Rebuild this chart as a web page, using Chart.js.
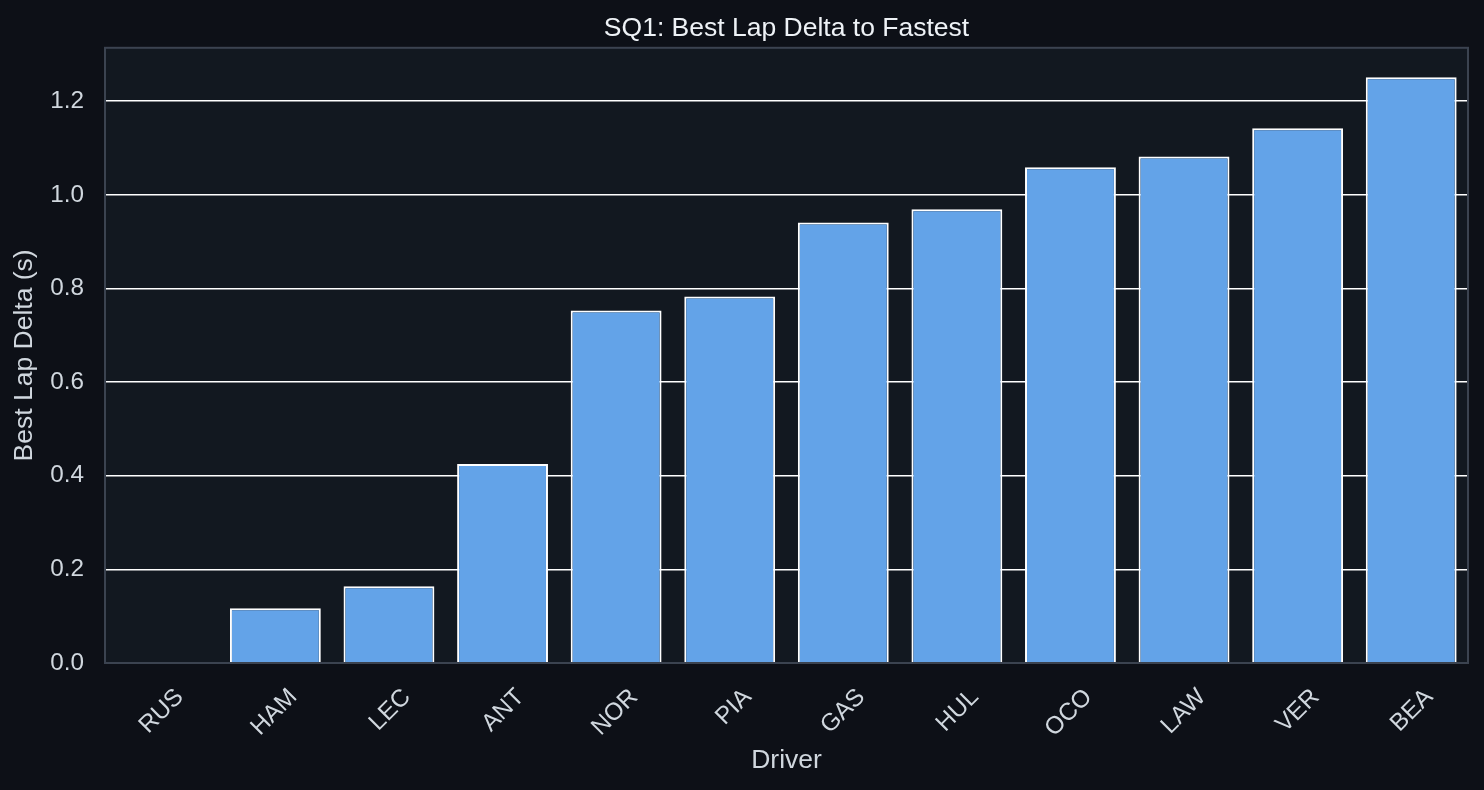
<!DOCTYPE html>
<html lang="en">
<head>
    <meta charset="UTF-8">
    <title>SQ1: Best Lap Delta to Fastest</title>
    <style>
        html, body {
            margin: 0;
            padding: 0;
            background-color: #0d1017;
        }
        #chart {
            display: block;
        }
    </style>
    <script src="https://cdn.jsdelivr.net/npm/chart.js"></script>
</head>
<body>
    <canvas id="chart" width="1484" height="790"></canvas>
    <script>
        const drivers = ['RUS', 'HAM', 'LEC', 'ANT', 'NOR', 'PIA', 'GAS', 'HUL', 'OCO', 'LAW', 'VER', 'BEA'];
        const lapDeltas = [0.0, 0.117, 0.164, 0.425, 0.753, 0.783, 0.941, 0.969, 1.059, 1.082, 1.142, 1.251];
        const yTicks = [0, 0.2, 0.4, 0.6, 0.8, 1.0, 1.2];
        const yMax = 1.314;

        const fontFamily = '"Liberation Sans", Arial, sans-serif';
        const textColor = '#d0d7de';

        // plot background, frame, and title centred over the plot area
        const plotFrame = {
            id: 'plotFrame',
            afterLayout(chart) {
                const t = chart.titleBlock;
                if (t) {
                    t.left = chart.chartArea.left;
                    t.right = chart.chartArea.right;
                    t.width = t.right - t.left;
                }
            },
            beforeDraw(chart) {
                const { ctx, chartArea: a } = chart;
                ctx.save();
                ctx.fillStyle = '#121820';
                ctx.fillRect(a.left, a.top, a.right - a.left, a.bottom - a.top);
                ctx.restore();
            },
            afterDraw(chart) {
                const { ctx, chartArea: a } = chart;
                ctx.save();
                ctx.strokeStyle = '#3b4350';
                ctx.lineWidth = 2;
                ctx.strokeRect(a.left, a.top, a.right - a.left, a.bottom - a.top);
                ctx.restore();
            }
        };

        new Chart(document.getElementById('chart'), {
            type: 'bar',
            data: {
                labels: drivers,
                datasets: [{
                    label: 'Best Lap Delta (s)',
                    data: lapDeltas,
                    backgroundColor: '#63a3e8',
                    borderColor: '#ffffff',
                    borderWidth: 2,
                    borderSkipped: 'bottom',
                    categoryPercentage: 1.0,
                    barPercentage: 0.8
                }]
            },
            options: {
                responsive: false,
                animation: false,
                devicePixelRatio: 1,
                layout: { padding: { left: 0, right: 16, top: 0, bottom: 0 } },
                plugins: {
                    legend: { display: false },
                    tooltip: { enabled: false },
                    title: {
                        display: true,
                        text: 'SQ1: Best Lap Delta to Fastest',
                        color: '#eef2f6',
                        font: { family: fontFamily, size: 26.5, weight: 'normal' },
                        padding: { top: 13, bottom: 3 }
                    }
                },
                scales: {
                    x: {
                        afterFit(scale) { scale.height = 127; },
                        grid: { display: false, drawTicks: false },
                        border: { display: false },
                        ticks: {
                            color: textColor,
                            font: { family: fontFamily, size: 24.3 },
                            maxRotation: 45,
                            minRotation: 45,
                            labelOffset: 18,
                            padding: 20
                        },
                        title: {
                            display: true,
                            text: 'Driver',
                            color: textColor,
                            font: { family: fontFamily, size: 26.5 },
                            padding: { top: 0, bottom: 13 }
                        }
                    },
                    y: {
                        min: 0,
                        max: yMax,
                        afterFit(scale) { scale.width = 105; },
                        afterBuildTicks(scale) {
                            scale.ticks = yTicks.map(v => ({ value: v }));
                        },
                        grid: { color: '#ffffff', lineWidth: 1.5, drawTicks: false },
                        border: { display: false },
                        ticks: {
                            color: textColor,
                            font: { family: fontFamily, size: 24.3 },
                            padding: 21,
                            callback: v => Number(v).toFixed(1)
                        },
                        title: {
                            display: true,
                            text: 'Best Lap Delta (s)',
                            color: textColor,
                            font: { family: fontFamily, size: 26.5 },
                            padding: { top: 9, bottom: 0 }
                        }
                    }
                }
            },
            plugins: [plotFrame]
        });
    </script>
</body>
</html>
